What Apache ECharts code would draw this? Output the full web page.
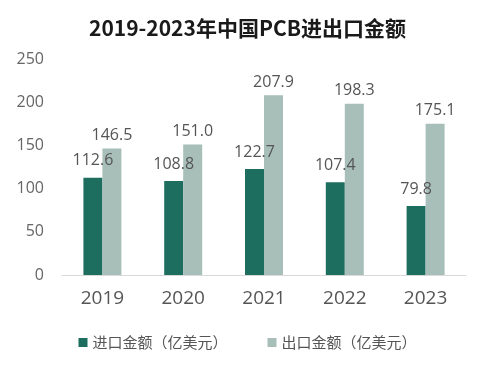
<!DOCTYPE html>
<html><head><meta charset="utf-8">
<script src="https://cdn.jsdelivr.net/npm/echarts@6/dist/echarts.min.js"></script>
<style>html,body{margin:0;padding:0;background:#fff}#c{width:495px;height:367px}</style>
</head><body><div id="c"></div>
<script>
const categories = ['2019','2020','2021','2022','2023'];
const importValues = [112.6, 108.8, 122.7, 107.4, 79.8];
const exportValues = [146.5, 151.0, 207.9, 198.3, 175.1];
const seriesNames = ['进口金额（亿美元）','出口金额（亿美元）'];
const titleText = '2019-2023年中国PCB进出口金额';

const chart = echarts.init(document.getElementById('c'));
const font = '"Open Sans","Noto Sans CJK SC",sans-serif';
chart.setOption({
  animation:false,
  title:{text:titleText,left:'center',top:13,textStyle:{fontFamily:'"Noto Sans CJK SC",sans-serif',fontSize:21,fontWeight:'bold',color:'#1a1a1a'}},
  legend:{bottom:12,left:'center',itemWidth:9,itemHeight:9,itemGap:40,icon:'rect',
    textStyle:{fontFamily:'"Noto Sans CJK SC",sans-serif',fontSize:15,color:'#555'}},
  grid:{left:62,right:29,top:59,bottom:92,containLabel:false},
  xAxis:{type:'category',data:categories,axisTick:{show:false},
    axisLine:{lineStyle:{color:'#d9d9d9'}},
    axisLabel:{fontFamily:font,fontSize:19,color:'#555',margin:14}},
  yAxis:{type:'value',min:0,max:250,interval:50,splitLine:{show:false},
    axisLine:{show:false},axisTick:{show:false},
    axisLabel:{fontFamily:font,fontSize:16,color:'#666',margin:18}},
  series:[
    {name:seriesNames[0],type:'bar',data:importValues,barWidth:19,barGap:'0%',
     itemStyle:{color:'#1e6e5f'},
     label:{show:true,position:'top',distance:9,fontFamily:font,fontSize:16,color:'#555',formatter:p=>p.value.toFixed(1)}},
    {name:seriesNames[1],type:'bar',data:exportValues,barWidth:19,
     itemStyle:{color:'#a8bfb9'},
     label:{show:true,position:'top',distance:5,fontFamily:font,fontSize:16,color:'#555',formatter:p=>p.value.toFixed(1)}}
  ]
});
</script></body></html>
